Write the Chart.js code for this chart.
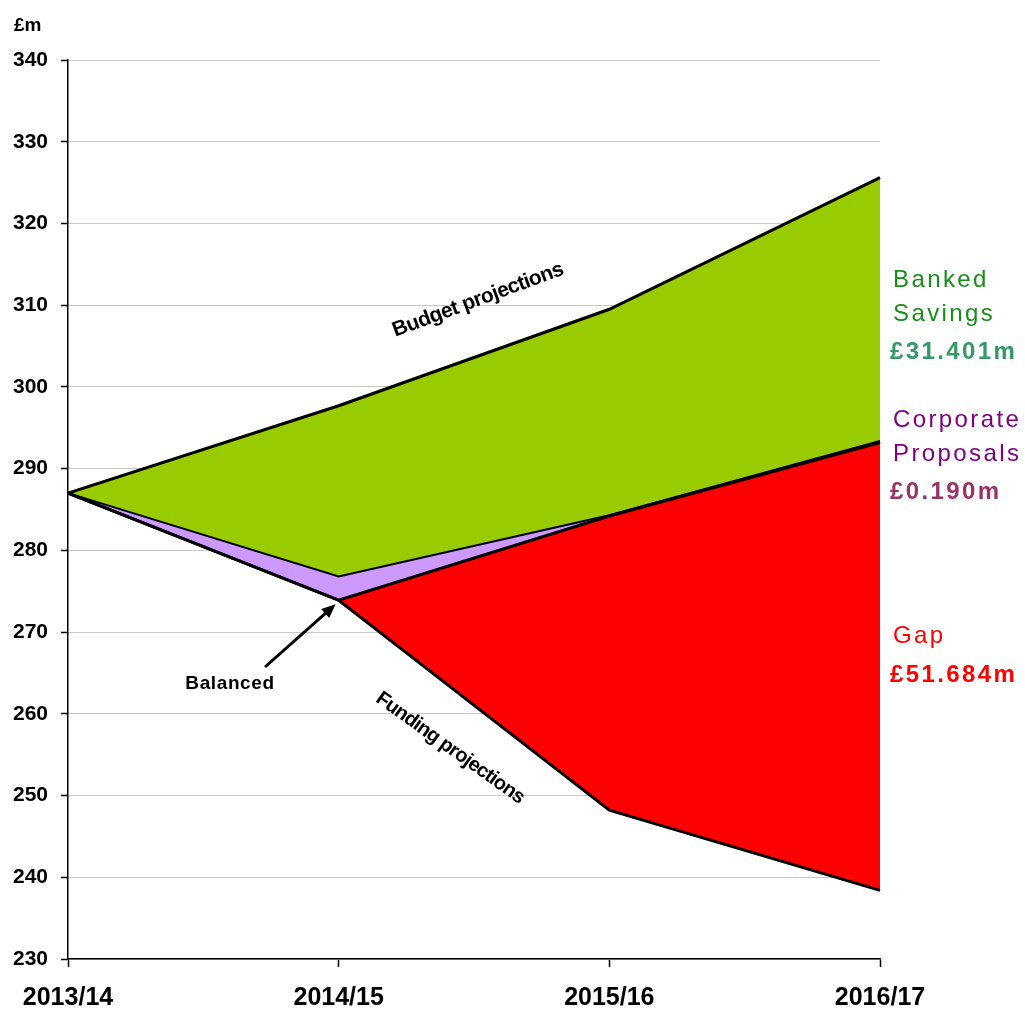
<!DOCTYPE html>
<html>
<head>
<meta charset="utf-8">
<script src="https://cdn.jsdelivr.net/npm/chart.js@4.4.0/dist/chart.umd.min.js"></script>
<style>
  html, body { margin: 0; padding: 0; background: #fff; }
  #wrap { width: 1025px; height: 1009px; position: relative; }
</style>
</head>
<body>
<div id="wrap"><canvas id="c" width="1025" height="1009"></canvas></div>
<script>
// Financial years
const years = ['2013/14', '2014/15', '2015/16', '2016/17'];

// £m projections per year
const fundingProjections = [287.0, 273.9, 248.2, 238.4];
const gapTop = [287.0, 273.9, 284.2, 293.2];
const proposalsTop = [287.0, 276.8, 284.3, 293.4];
const budgetProjections = [287.0, 297.7, 309.5, 325.6];

// Axis range
const yMin = 230, yMax = 340, yStep = 10;

// Side labels
const sideLabels = [
  { lines: ['Banked', 'Savings'], amount: '£31.401m', color: '#1a8c1a', amountColor: '#339966' },
  { lines: ['Corporate', 'Proposals'], amount: '£0.190m', color: '#800080', amountColor: '#993366' },
  { lines: ['Gap'], amount: '£51.684m', color: '#ff0000', amountColor: '#ff0000' }
];

const FONT = '"Liberation Sans", Arial, sans-serif';

const annotations = {
  id: 'annotations',
  afterDatasetsDraw(chart) {
    const ctx = chart.ctx;
    const x = chart.scales.x, y = chart.scales.y;
    ctx.save();
    ctx.fillStyle = '#000';

    // unit label
    ctx.font = 'bold 19px ' + FONT;
    ctx.textAlign = 'left';
    ctx.textBaseline = 'middle';
    ctx.fillText('£m', 14, 26);

    // line captions
    ctx.textAlign = 'center';
    ctx.letterSpacing = '-0.6px';
    ctx.font = 'bold 21px ' + FONT;
    ctx.save();
    ctx.translate(478, 300);
    ctx.rotate(-20.3 * Math.PI / 180);
    ctx.fillText('Budget projections', 0, 0);
    ctx.restore();

    ctx.letterSpacing = '-0.8px';
    ctx.font = 'bold 20px ' + FONT;
    ctx.save();
    ctx.translate(450, 748);
    ctx.rotate(35.5 * Math.PI / 180);
    ctx.fillText('Funding projections', 0, 0);
    ctx.restore();

    // "Balanced" pointer
    ctx.letterSpacing = '0.6px';
    ctx.font = 'bold 19px ' + FONT;
    ctx.fillText('Balanced', 230, 684);
    const hx = x.getPixelForValue(1) - 3, hy = y.getPixelForValue(fundingProjections[1]) + 4;
    const tx = 265, ty = 667;
    const ang = Math.atan2(hy - ty, hx - tx);
    ctx.strokeStyle = '#000';
    ctx.lineWidth = 3;
    ctx.beginPath();
    ctx.moveTo(tx, ty);
    ctx.lineTo(hx - 10 * Math.cos(ang), hy - 10 * Math.sin(ang));
    ctx.stroke();
    ctx.beginPath();
    ctx.moveTo(hx, hy);
    ctx.lineTo(hx - 14 * Math.cos(ang) + 6 * Math.sin(ang), hy - 14 * Math.sin(ang) - 6 * Math.cos(ang));
    ctx.lineTo(hx - 14 * Math.cos(ang) - 6 * Math.sin(ang), hy - 14 * Math.sin(ang) + 6 * Math.cos(ang));
    ctx.closePath();
    ctx.fill();

    // side labels
    ctx.textAlign = 'left';
    ctx.letterSpacing = '2.4px';
    const tops = [280, 420, 636];
    sideLabels.forEach((lab, i) => {
      let yy = tops[i];
      ctx.font = '24px ' + FONT;
      ctx.fillStyle = lab.color;
      lab.lines.forEach(t => { ctx.fillText(t, 893, yy); yy += 34; });
      ctx.font = 'bold 24px ' + FONT;
      ctx.fillStyle = lab.amountColor;
      ctx.fillText(lab.amount, 890, yy + (lab.lines.length === 1 ? 5 : 4));
    });
    ctx.restore();
  }
};

const lineBase = { pointRadius: 0, pointHoverRadius: 0, tension: 0, borderColor: '#000' };

new Chart(document.getElementById('c'), {
  type: 'line',
  data: {
    labels: years,
    datasets: [
      { ...lineBase, label: 'Funding projections', data: fundingProjections, borderWidth: 3, fill: false },
      { ...lineBase, label: 'Gap', data: gapTop, borderWidth: 3, fill: '-1', backgroundColor: '#ff0000' },
      { ...lineBase, label: 'Corporate Proposals', data: proposalsTop, borderWidth: 2, fill: '-1', backgroundColor: '#cc99ff' },
      { ...lineBase, label: 'Budget projections', data: budgetProjections, borderWidth: 3, fill: '-1', backgroundColor: '#99cc00' }
    ]
  },
  options: {
    responsive: false,
    animation: false,
    events: [],
    layout: { padding: { left: 0, top: 60, right: 145, bottom: 0 } },
    plugins: { legend: { display: false }, tooltip: { enabled: false } },
    scales: {
      x: {
        offset: false,
        grid: { offset: false, drawOnChartArea: false, drawTicks: true, tickLength: 8, tickColor: '#000', tickWidth: 1.5 },
        border: { color: '#000', width: 1.5 },
        ticks: { color: '#000', font: { family: FONT, size: 25, weight: 'bold' }, padding: 16, maxRotation: 0 },
        afterFit(s) { s.height = 50; }
      },
      y: {
        min: yMin, max: yMax,
        grid: { color: '#c8c8c8', lineWidth: 1, drawTicks: true, tickLength: 7, tickColor: '#000', tickWidth: 1.5 },
        border: { color: '#000', width: 1.5 },
        ticks: { stepSize: yStep, color: '#000', font: { family: FONT, size: 21, weight: 'bold' }, padding: 13 },
        afterFit(s) { s.width = 68; }
      }
    }
  },
  plugins: [annotations]
});
</script>
</body>
</html>
